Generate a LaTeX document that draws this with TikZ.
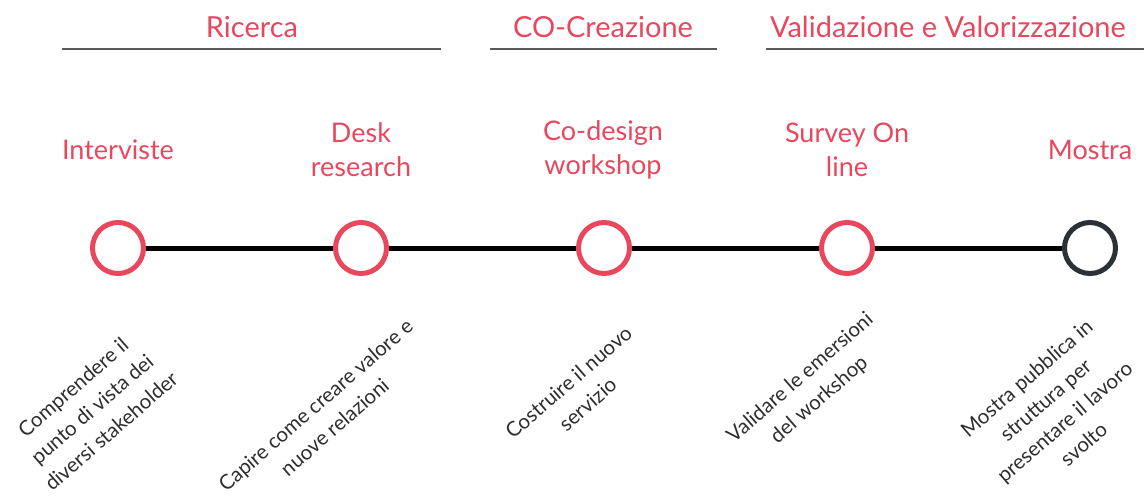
\documentclass[tikz,border=0pt]{standalone}
\usepackage{fontspec}
\setmainfont{Lato}
\usepackage{xcolor}
\usepackage{tikz}
\usetikzlibrary{shapes.geometric, arrows}
\definecolor{coral}{HTML}{E8475E}
\definecolor{slate}{HTML}{2B3137}
\definecolor{ink}{HTML}{2E2E2E}
\tikzstyle{milestone} = [circle, draw=coral, line width=5pt, minimum size=51pt, inner sep=0pt, fill=white]
\tikzstyle{phase} = [text=coral, font=\fontsize{27}{34}\selectfont, align=center, inner sep=0pt]
\tikzstyle{header} = [phase, font=\fontsize{29}{34}\selectfont]
\tikzstyle{goal} = [text=ink, rotate=41, font=\fontsize{20.5}{29}\selectfont, align=center, inner sep=0pt]
\tikzstyle{rule} = [draw=black!65, line width=1.5pt]
\tikzstyle{link} = [line width=5pt, black]

\begin{document}
\begin{tikzpicture}[x=1pt, y=1pt, node distance=243pt]
        \useasboundingbox (0,0) rectangle (1144,-499);
        % fasi
        \node (ricerca) [header] at (252,-27) {Ricerca};
        \node (cocrea) [header] at (603,-27) {CO-Creazione};
        \node (valida) [header] at (948,-27) {Validazione e Valorizzazione};
        \draw [rule] (62,-49) -- (441,-49);
        \draw [rule] (490,-49) -- (717,-49);
        \draw [rule] (766,-49) -- (1144,-49);
        % tappe
        \node (interviste) [milestone] at (118,-248) {};
        \node (desk) [milestone, right of=interviste] {};
        \node (codesign) [milestone, right of=desk] {};
        \node (survey) [milestone, right of=codesign] {};
        \node (mostra) [milestone, draw=slate, right of=survey] {};
        \draw [link] (interviste) -- (desk);
        \draw [link] (desk) -- (codesign);
        \draw [link] (codesign) -- (survey);
        \draw [link] (survey) -- (mostra);
        % etichette
        \node (interviste-t) [phase] at (118,-150) {Interviste};
        \node (desk-t) [phase] at (361,-150) {Desk\\research};
        \node (codesign-t) [phase] at (603,-150) {Co-design\\workshop};
        \node (survey-t) [phase] at (847,-150) {Survey On\\line};
        \node (mostra-t) [phase] at (1090,-150) {Mostra};
        % obiettivi
        \node (interviste-g) [goal] at (92,-409) {Comprendere il\\punto di vista dei\\diversi stakeholder};
        \node (desk-g) [goal] at (325,-416) {Capire come creare valore e\\nuove relazioni};
        \node (codesign-g) [goal] at (578,-393) {Costruire il nuovo\\servizio};
        \node (survey-g) [goal] at (810,-389) {Validare le emersioni\\del workshop};
        \node (mostra-g) [goal] at (1055,-411) {Mostra pubblica in\\struttura per\\presentare il lavoro\\svolto};
    \end{tikzpicture}
\end{document}
